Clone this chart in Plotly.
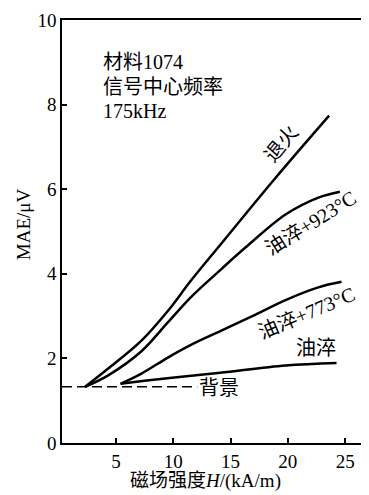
import plotly.graph_objects as go

# data
x_anneal = [2.32, 4.33, 7.23, 9.53, 11.55, 14.15, 18.9, 23.6]
y_anneal = [1.33, 1.76, 2.42, 3.12, 3.84, 4.70, 6.26, 7.74]

x_q923 = [2.32, 4.33, 7.23, 9.53, 11.55, 14.15, 16.3, 19.8, 22.66, 24.54]
y_q923 = [1.33, 1.60, 2.17, 2.85, 3.45, 4.10, 4.62, 5.40, 5.80, 5.94]

x_q773 = [5.41, 7.23, 9.53, 11.55, 14.15, 16.9, 19.8, 22.66, 24.68]
y_q773 = [1.40, 1.64, 2.02, 2.32, 2.65, 3.00, 3.38, 3.68, 3.81]

x_quench = [5.41, 7.5, 10.1, 14.1, 19.8, 24.25]
y_quench = [1.40, 1.47, 1.55, 1.66, 1.83, 1.89]

x_bg = [0.3, 12.1]
y_bg = [1.33, 1.33]

x_ticks = [5, 10, 15, 20, 25]
y_ticks = [0, 2, 4, 6, 8, 10]

FONT = "Liberation Serif, Noto Sans CJK SC"
# plot-area edges in page pixels
L, R, T, B = 61.7, 367.0, 15.0, 443.0
OFF = 8  # page body offset
W, H = 369 - OFF, 495 - OFF


def px(xp, yp):
    return (xp - L) / (R - L), (B - yp) / (B - T)


fig = go.Figure()
for xs, ys in [(x_anneal, y_anneal), (x_q923, y_q923), (x_q773, y_q773), (x_quench, y_quench)]:
    fig.add_trace(go.Scatter(x=xs, y=ys, mode="lines",
                             line=dict(color="black", width=2.5, shape="spline", smoothing=1.0),
                             showlegend=False, hoverinfo="skip"))
fig.add_trace(go.Scatter(x=x_bg, y=y_bg, mode="lines",
                         line=dict(color="black", width=1.5, dash="10px,5px"),
                         showlegend=False, hoverinfo="skip"))

annots = []
for text, yp in [("材料1074", 57), ("信号中心频率", 82.5), ("175kHz", 107)]:
    ax, ay = px(101, yp)
    annots.append(dict(x=ax, y=ay, xref="paper", yref="paper", text=text, showarrow=False,
                       xanchor="left", yanchor="middle", font=dict(size=20, family=FONT, color="black")))

labels = [
    ("退火", 282, 140, -50),
    ("油淬+923°C", 312, 220, -32),
    ("油淬+773°C", 308, 311, -23),
    ("油淬", 318, 346.5, 0),
    ("背景", 220, 387, 0),
]
for text, xx, yy, ang in labels:
    ax, ay = px(xx, yy)
    annots.append(dict(x=ax, y=ay, xref="paper", yref="paper", text=text, showarrow=False,
                       xanchor="center", yanchor="middle", textangle=ang,
                       font=dict(size=20, family=FONT, color="black")))

ax, ay = px(206, 481)
annots.append(dict(x=ax, y=ay, xref="paper", yref="paper", text="磁场强度<i>H</i>/(kA/m)",
                   showarrow=False, xanchor="center", yanchor="middle",
                   font=dict(size=19, family=FONT, color="black")))
ax, ay = px(23, 222)
annots.append(dict(x=ax, y=ay, xref="paper", yref="paper", text="MAE/μV", textangle=-90,
                   showarrow=False, xanchor="center", yanchor="middle",
                   font=dict(size=19, family=FONT, color="black")))

fig.update_layout(
    width=W, height=H,
    margin=dict(l=L - OFF, r=369 - R, t=T - OFF, b=495 - B),
    paper_bgcolor="white", plot_bgcolor="white",
    annotations=annots,
    font=dict(family=FONT, color="black"),
)
fig.update_xaxes(range=[0.3, 26.73], tickvals=x_ticks, ticks="inside", ticklen=5, tickwidth=1.5,
                 tickcolor="black", showline=True, linecolor="black", linewidth=1.5, mirror=True,
                 showgrid=False, zeroline=False, ticklabeloverflow="allow",
                 tickfont=dict(size=19, family=FONT, color="black"))
fig.update_yaxes(range=[0, 10], tickvals=y_ticks, ticks="inside", ticklen=5, tickwidth=1.5,
                 tickcolor="black", showline=True, linecolor="black", linewidth=1.5, mirror=True,
                 showgrid=False, zeroline=False, ticklabeloverflow="allow",
                 tickfont=dict(size=19, family=FONT, color="black"))

fig.write_html("out.html")
